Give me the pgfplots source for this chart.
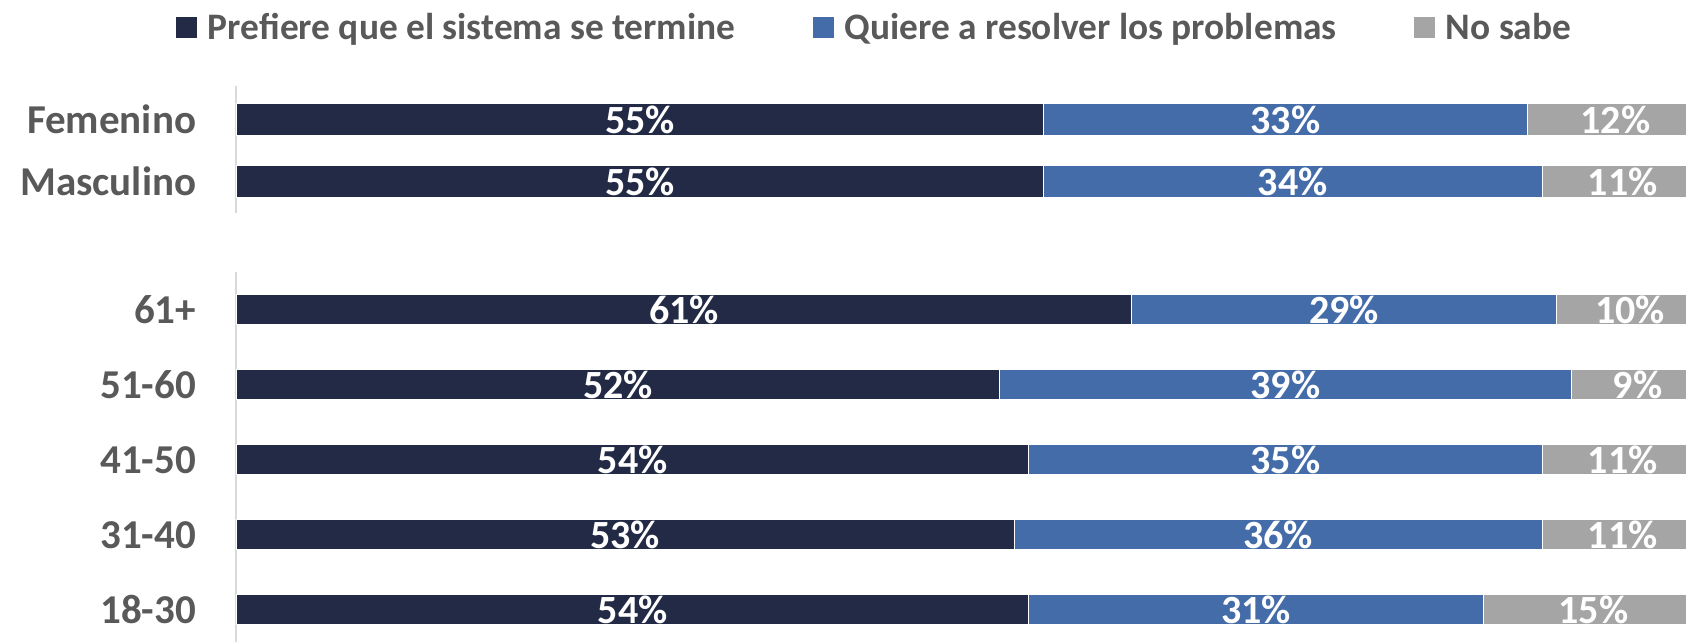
\documentclass[border=0pt]{standalone}
\usepackage{fontspec}
\setmainfont{Carlito}
\usepackage{pgfplots}
\pgfplotsset{compat=1.18}

\definecolor{navy}{HTML}{222A45}
\definecolor{midblue}{HTML}{446CA9}
\definecolor{nsgray}{HTML}{A5A5A5}
\definecolor{txt}{HTML}{595959}
\definecolor{axln}{HTML}{D9D9D9}

\pgfplotsset{
  segbar/.style={fill=#1, draw=white, line width=0.5pt,
    nodes near coords, point meta=explicit symbolic,
    every node near coord/.append style={anchor=center, text=white, inner sep=0pt,
      font=\bfseries\fontsize{20}{24}\selectfont},
    legend image code/.code={\fill[#1] (0pt,-5pt) rectangle (10pt,5pt);}},
  common/.style={scale only axis, width=733.5pt, xmin=0, xmax=100,
    xbar stacked, hide x axis, axis y line*=left,
    y axis line style={axln, line width=1pt},
    major tick length=0pt, ytick style={draw=none},
    yticklabel style={font=\bfseries\fontsize{20.5}{24}\selectfont, text=txt,
      anchor=east, inner sep=0pt, xshift=-20pt},
    clip=false},
}

\begin{document}
\begin{tikzpicture}
\path[use as bounding box] (0,0) rectangle (843pt,321pt);

% sexo
\begin{axis}[common, at={(118.25pt,214.5pt)}, anchor=south west,
  height=63.5pt, ymin=-0.502, ymax=1.536, bar width=16.25pt,
  ytick={0,1}, yticklabels={Masculino,Femenino},
  legend columns=3, legend cell align=left,
  legend style={draw=none, fill=none, inner sep=0pt, outer sep=0pt,
    at={(-0.04124,1.4606)}, anchor=west,
    font=\bfseries\fontsize{18.7}{22}\selectfont,
    column sep=5.5pt, nodes={inner sep=0pt, text=txt},
    /tikz/every even column/.append style={column sep=38.5pt}}]
\addplot[segbar=navy] coordinates {(55,0) [55\%] (55,1) [55\%]};
\addplot[segbar=midblue] coordinates {(34,0) [34\%] (33,1) [33\%]};
\addplot[segbar=nsgray] coordinates {(11,0) [11\%] (12,1) [12\%]};
\legend{Prefiere que el sistema se termine, Quiere a resolver los problemas, No sabe}
\end{axis}

% edad
\begin{axis}[common, at={(118.25pt,0pt)}, anchor=south west,
  height=185pt, ymin=-0.43, ymax=4.503, bar width=15.25pt,
  ytick={0,1,2,3,4}, yticklabels={18-30,31-40,41-50,51-60,61+}]
\addplot[segbar=navy] coordinates {(54,0) [54\%] (53,1) [53\%] (54,2) [54\%] (52,3) [52\%] (61,4) [61\%]};
\addplot[segbar=midblue] coordinates {(31,0) [31\%] (36,1) [36\%] (35,2) [35\%] (39,3) [39\%] (29,4) [29\%]};
\addplot[segbar=nsgray] coordinates {(15,0) [15\%] (11,1) [11\%] (11,2) [11\%] (9,3) [9\%] (10,4) [10\%]};
\end{axis}
\end{tikzpicture}
\end{document}
